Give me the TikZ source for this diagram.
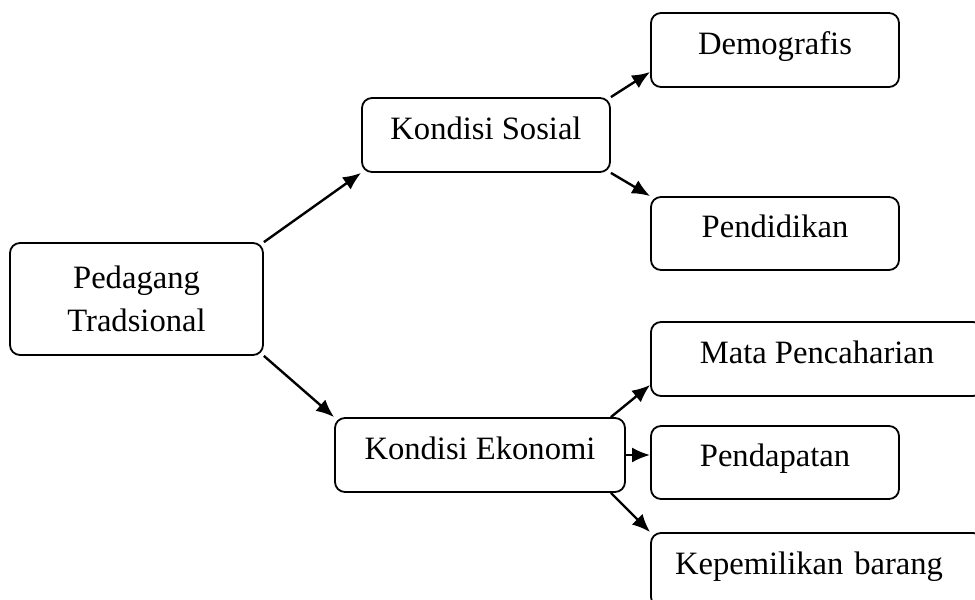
\documentclass[tikz,border=0pt]{standalone}
\usepackage{fontspec}
\setmainfont{Liberation Serif}
\usetikzlibrary{arrows.meta}
\usetikzlibrary{positioning}
\tikzstyle{frame}=[draw,rounded corners=5pt,line width=0.9pt,inner sep=0pt,font=\fontsize{16.3}{21.5}\selectfont]
\tikzstyle{box}=[frame,minimum height=37pt,text height=10.5pt,text depth=6pt]
\tikzstyle{link}=[-{Latex[length=9pt,width=7.5pt]},line width=1.2pt]

\begin{document}
\begin{tikzpicture}[x=0.5pt,y=0.5pt]
\clip (0,0) rectangle (975,600);

\node [frame,minimum width=126.5pt,minimum height=56pt,align=center] (ped) at (136.5,301) {Pedagang\\Tradsional};

\node [box,minimum width=124pt] (soc) at (486,465) {Kondisi Sosial};
\node [box,minimum width=145pt] (eko) at (480,145) {Kondisi Ekonomi};

\node [box,minimum width=124pt] (demo) at (775,550) {Demografis};
\node [box,minimum width=124pt,minimum height=36.5pt] (pend) at (775,366.5) {Pendidikan};
\node [box,minimum width=166pt] (mata) at (817,241) {Mata Pencaharian};
\node [box,minimum width=124pt,minimum height=36.5pt] (pdpt) at (775,137.5) {Pendapatan};
\node [box,text width=142pt,inner xsep=12pt,align=left] (kep) at (817,30) {Kepemilikan barang};

\draw [link] (ped.north east) -- (soc.south west);
\draw [link] (ped.south east) -- (eko.north west);
\draw [link] (soc.north east) -- ([yshift=-11pt]demo.west);
\draw [link] (soc.south east) -- (pend.north west);
\draw [link] ([xshift=-7.5pt]eko.north east) -- ([yshift=-13pt]mata.west);
\draw [link] (eko.east) -- (eko.east -| pdpt.west);
\draw [link] ([xshift=-7.5pt]eko.south east) -- (kep.north west);

\end{tikzpicture}
\end{document}
